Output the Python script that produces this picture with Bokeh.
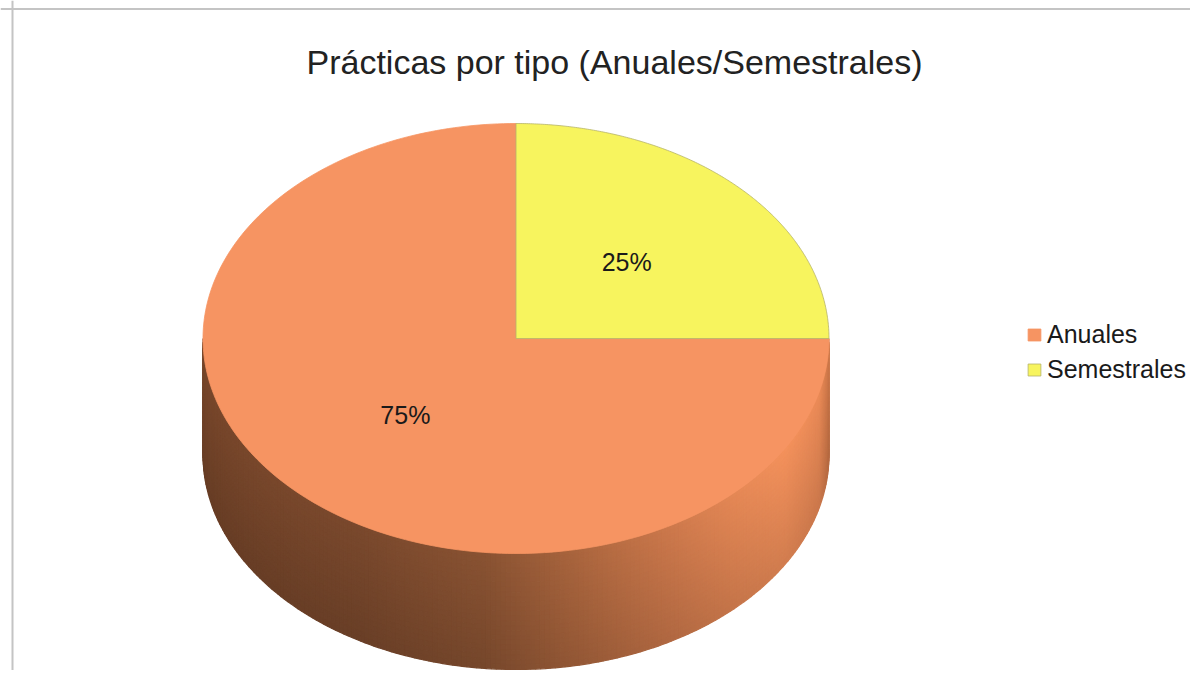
import numpy as np
from bokeh.plotting import figure
from bokeh.models import Range1d, Span, Label, Legend, LegendItem, ColumnDataSource
from bokeh.core.properties import value
from bokeh.embed import file_html
from bokeh.resources import INLINE

# ---- data ----
categories = ["Anuales", "Semestrales"]
values = [75, 25]
colors = ["#F69462", "#F7F45E"]
title_text = "Prácticas por tipo (Anuales/Semestrales)"

FONT = "Liberation Sans"

# ---- layout (screen-like coordinates, y grows downward) ----
W, H = 1190, 670
p = figure(width=W, height=H, output_backend="svg", toolbar_location=None,
           x_range=Range1d(0, W), y_range=Range1d(H, 0),
           x_axis_type=None, y_axis_type=None, min_border=0)
p.grid.visible = False
p.outline_line_color = None
p.background_fill_color = "white"
p.border_fill_color = "white"

CX, CY, RX, RY, DEPTH = 515.5, 338.0, 313.0, 215.0, 116.0

total = float(sum(values))
fracs = [v / total for v in values]

# ---- side (3D wall), visible front half, shaded in strips ----
stops_t = np.array([0.0, 0.25, 0.45, 0.6, 0.75, 0.85, 0.93, 0.985, 1.0])
stops_c = np.array([(112, 66, 40), (114, 68, 42), (128, 77, 47), (160, 95, 58),
                    (192, 113, 71), (214, 127, 80), (228, 136, 86), (220, 130, 82),
                    (196, 114, 70)], dtype=float)

N, M = 200, 24
th = np.radians(np.linspace(180, 360, N + 1))
sxs, sys_, scol = [], [], []
for i in range(N):
    x0, x1 = CX + RX * np.cos(th[i]), CX + RX * np.cos(th[i + 1])
    y0, y1 = CY - RY * np.sin(th[i]), CY - RY * np.sin(th[i + 1])
    t = ((x0 + x1) / 2 - (CX - RX)) / (2 * RX)
    base = np.array([np.interp(t, stops_t, stops_c[:, k]) for k in range(3)])
    for j in range(M):
        a, b = DEPTH * j / M, DEPTH * (j + 1) / M
        v = (j + 0.5) / M
        c = np.clip(base * (1.07 - 0.15 * v), 0, 255).round().astype(int)
        sxs.append([x0, x1, x1, x0])
        sys_.append([y0 + a, y1 + a, y1 + b, y0 + b])
        scol.append("#%02x%02x%02x" % tuple(c))
p.patches(xs=sxs, ys=sys_, fill_color=scol, line_color=scol, line_width=1.2)

# ---- top face slices ----
renderers = []
lab_x, lab_y, lab_t = [], [], []
ang = 90.0
for cat, f, col in zip(categories, fracs, colors):
    a0, a1 = ang, ang + 360.0 * f
    tt = np.radians(np.linspace(a0, a1, 240))
    xs = [CX] + list(CX + RX * np.cos(tt)) + [CX]
    ys = [CY] + list(CY - RY * np.sin(tt)) + [CY]
    lc = "#b5b36a" if col == colors[1] else col
    r = p.patch(xs, ys, fill_color=col, line_color=lc, line_width=0.8)
    renderers.append(r)
    mid = np.radians((a0 + a1) / 2)
    lab_x.append(CX + 0.5 * RX * np.cos(mid))
    lab_y.append(CY - 0.5 * RY * np.sin(mid))
    lab_t.append(f"{round(f * 100)}%")
    ang = a1

src = ColumnDataSource(dict(x=lab_x, y=lab_y, t=lab_t))
p.text(x="x", y="y", text="t", source=src, text_align="center", text_baseline="middle",
       text_font=value(FONT), text_font_size="25px", text_color="#1a1a1a")

# ---- title ----
p.add_layout(Label(x=614, y=61, text=title_text, text_align="center", text_baseline="middle",
                   text_font=FONT, text_font_size="34px", text_color="#222222"))

# ---- border ----
p.add_layout(Span(location=12, dimension="height", line_color="#c4c4c4", line_width=2))
p.add_layout(Span(location=8.5, dimension="width", line_color="#c4c4c4", line_width=2))

# ---- legend ----
legend = Legend(items=[LegendItem(label=c, renderers=[r]) for c, r in zip(categories, renderers)],
                location=(1026, 286), padding=0, margin=0, spacing=6, label_standoff=5,
                glyph_width=16, glyph_height=15, label_text_font=FONT,
                label_text_font_size="25px", label_text_color="#1a1a1a",
                border_line_color=None, background_fill_alpha=0)
p.add_layout(legend)

open("out.html", "w").write(file_html(p, INLINE))
